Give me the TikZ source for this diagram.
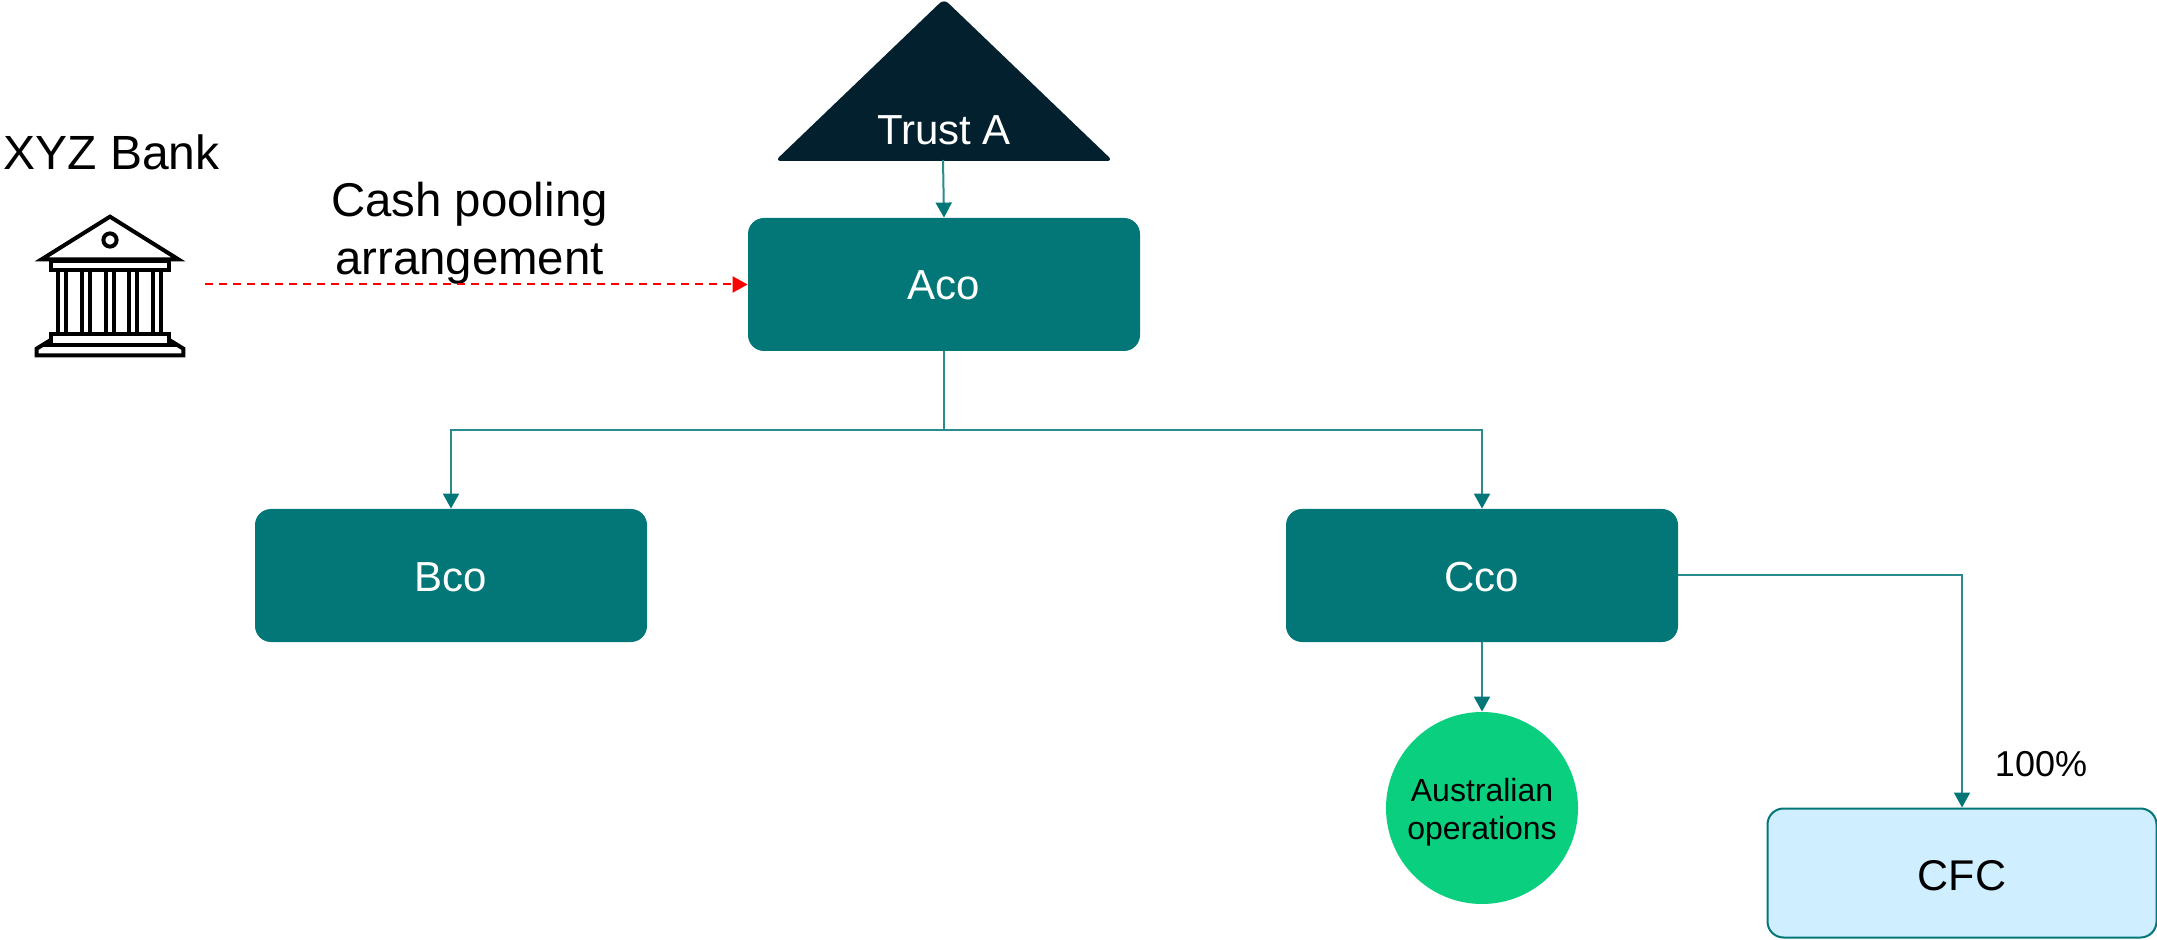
\documentclass[tikz,border=0pt]{standalone}
\usepackage{fontspec}
\setmainfont{Liberation Sans}
\usetikzlibrary{arrows.meta}
\definecolor{tealbox}{HTML}{037777}
\definecolor{navy}{HTML}{03202F}
\definecolor{greenc}{HTML}{0ACF7F}
\definecolor{paleblue}{HTML}{CFEEFF}
\definecolor{redline}{HTML}{FF0000}
\tikzset{
  tealnode/.style={draw=none,fill=tealbox,rounded corners=8pt,minimum width=196pt,minimum height=66.5pt,inner sep=0pt},
  tealtext/.style={inner sep=0pt,anchor=base,text=white,font=\fontsize{21}{25}\selectfont},
  conn/.style={draw=tealbox!85!white,line width=1pt,-{Triangle[length=7.5pt,width=8pt,color=tealbox]}},
  connplain/.style={draw=tealbox!85!white,line width=1pt},
  icon/.style={draw=black,line width=2pt,line join=miter,fill=none},
  lbl/.style={inner sep=0pt,text=black}
}
\begin{document}
\begin{tikzpicture}[x=0.5pt,y=-0.5pt]
\useasboundingbox (0,0) rectangle (2157,940);
% trust triangle
\fill[navy,rounded corners=3pt] (944,-1) -- (1113,161) -- (775,161) -- cycle;
\coordinate (trustbase) at (943,160);
\node[lbl,text=white,font=\fontsize{21}{25}\selectfont,anchor=base] (trust) at (944,145) {Trust A};
% boxes
\node[tealnode] (aco) at (944,284.5) {};
\node[tealtext] (acotext) at (944,300) {Aco};
\node[tealnode] (bco) at (451,575.5) {};
\node[tealtext] (bcotext) at (451,591) {Bco};
\node[tealnode] (cco) at (1482,575.5) {};
\node[tealtext] (ccotext) at (1482,591) {Cco};
\node[circle,fill=greenc,minimum size=96pt,inner sep=0pt] (aus) at (1482,808) {};
\node[lbl,anchor=base,align=center,font=\fontsize{16}{19}\selectfont] (austext) at (1482,839) {Australian\\operations};
\node[draw=tealbox,line width=1pt,fill=paleblue,rounded corners=8pt,minimum width=194.5pt,minimum height=64.5pt,inner sep=0pt] (cfc) at (1962,873) {};
\node[lbl,anchor=base,font=\fontsize{21.5}{25}\selectfont] (cfctext) at (1962,890) {CFC};
% labels
\node[lbl,anchor=base west,font=\fontsize{24}{29}\selectfont] (xyz) at (3,170) {XYZ Bank};
\node[lbl,anchor=base,align=center,font=\fontsize{23.7}{29}\selectfont] (cash) at (469.5,275) {Cash pooling\\arrangement};
\node[lbl,anchor=base,font=\fontsize{18}{22}\selectfont] (pct) at (2041,776) {100\%};
% connectors
\coordinate (bankend) at (205,284.5);
\draw[draw=redline,line width=1pt,dash pattern=on 4pt off 3pt,-{Triangle[length=7.5pt,width=8pt,color=redline]}] (bankend) -- (aco.west);
\draw[conn] (trustbase) -- (aco.north);
\coordinate (split) at (944,430);
\draw[connplain] (aco.south) -- (split);
\draw[conn] (split) -| (bco.north);
\draw[conn] (split) -| (cco.north);
\draw[conn] (cco.east) -| (cfc.north);
\draw[conn] (cco.south) -- (aus.north);
% bank icon (zoom coordinates)
\begin{scope}[shift={(0,120)},xscale=1/3,yscale=1/3]
  \draw[icon] (330,290) -- (125,418) -- (535,418) -- cycle;
  \draw[icon] (330,360) circle[radius=60*0.33];
  \draw[icon] (152,424) rectangle (508,450);
  \foreach \cx in {175,198,246,270,317,341,388,412,459,483}
    \draw[icon] (\cx,450) -- (\cx,642);
  \draw[icon] (152,642) rectangle (508,674);
  \draw[icon] (152,660) -- (110,686) -- (110,706) -- (550,706) -- (550,686) -- (508,660);
  \draw[icon] (130,676) -- (530,676);
\end{scope}
\end{tikzpicture}
\end{document}
